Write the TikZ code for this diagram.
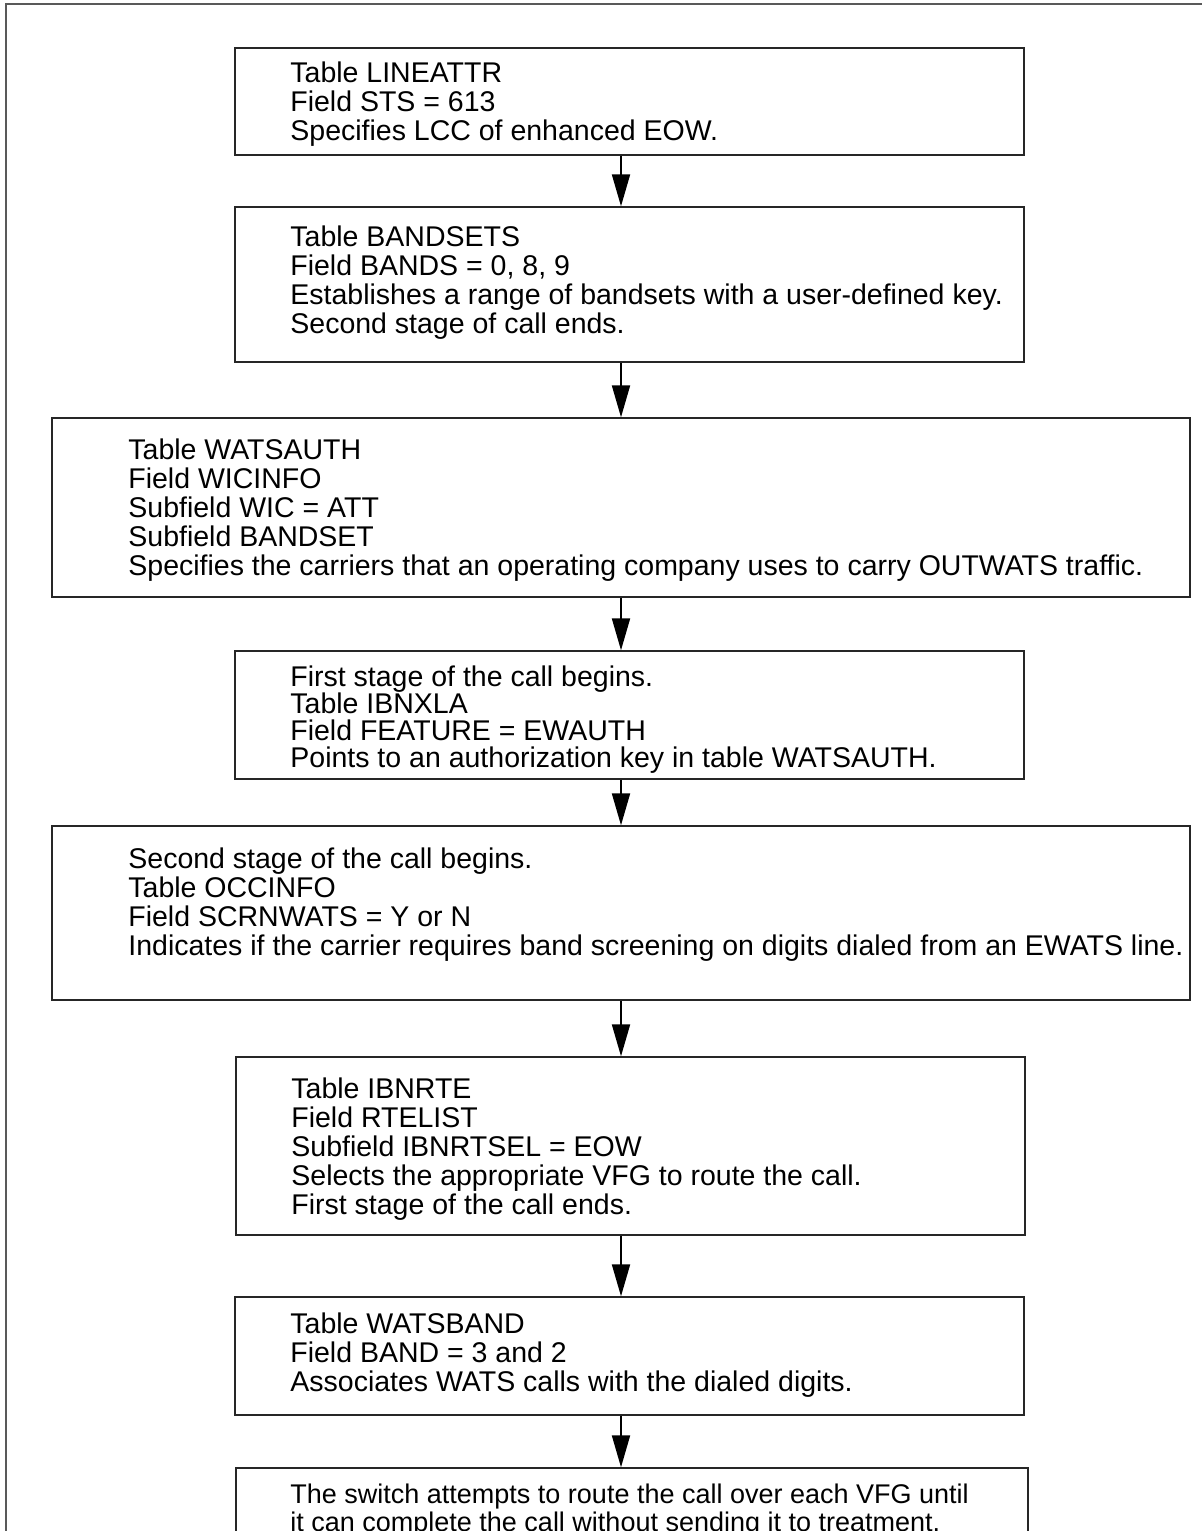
\documentclass[tikz,border=0pt]{standalone}
\usepackage{fontspec}
\setmainfont{Liberation Sans}
\usetikzlibrary{arrows.meta,fit}
\begin{document}
\begin{tikzpicture}[x=0.5pt,y=-0.5pt,
  stepbox/.style={draw=black!85, line width=0.7pt, inner sep=0pt},
  txt/.style={anchor=north west, inner sep=0pt, align=left,
    font=\fontsize{14.25pt}{14.5pt}\selectfont},
  flow/.style={draw=black, line width=1pt, -{Triangle[length=16pt,width=9pt]}}]
\useasboundingbox (0,0) rectangle (1202,1531);
\clip (0,0) rectangle (1202,1531);
% page frame (left and top edges)
\draw[black!65, line width=1pt] (6,1560) -- (6,4) -- (1220,4);
% boxes
\node[stepbox, fit={(235,48) (1024,155)}]   (b1) {};
\node[stepbox, fit={(235,207) (1024,362)}]  (b2) {};
\node[stepbox, fit={(52,418) (1190,597)}]   (b3) {};
\node[stepbox, fit={(235,651) (1024,779)}]  (b4) {};
\node[stepbox, fit={(52,826) (1190,1000)}]  (b5) {};
\node[stepbox, fit={(236,1057) (1025,1235)}] (b6) {};
\node[stepbox, fit={(235,1297) (1024,1415)}] (b7) {};
\node[stepbox, fit={(236,1468) (1028,1580)}] (b8) {};
% texts
\node[txt] (t1) at (290,61) {Table LINEATTR\\Field STS = 613\\Specifies LCC of enhanced EOW.};
\node[txt] (t2) at (290,225) {Table BANDSETS\\Field BANDS = 0, 8, 9\\Establishes a range of bandsets with a user-defined key.\\Second stage of call ends.};
\node[txt] (t3) at (128,438) {Table WATSAUTH\\Field WICINFO\\Subfield WIC = ATT\\Subfield BANDSET\\Specifies the carriers that an operating company uses to carry OUTWATS traffic.};
\node[txt, font=\fontsize{14.25pt}{13.5pt}\selectfont] (t4) at (290,665) {First stage of the call begins.\\Table IBNXLA\\Field FEATURE = EWAUTH\\Points to an authorization key in table WATSAUTH.};
\node[txt] (t5) at (128,847) {Second stage of the call begins.\\Table OCCINFO\\Field SCRNWATS = Y or N\\Indicates if the carrier requires band screening on digits dialed from an EWATS line.};
\node[txt] (t6) at (291,1077) {Table IBNRTE\\Field RTELIST\\Subfield IBNRTSEL = EOW\\Selects the appropriate VFG to route the call.\\First stage of the call ends.};
\node[txt] (t7) at (290,1312) {Table WATSBAND\\Field BAND = 3 and 2\\Associates WATS calls with the dialed digits.};
\node[txt, font=\fontsize{13.5pt}{13.75pt}\selectfont] (t8) at (290,1484) {The switch attempts to route the call over each VFG until\\it can complete the call without sending it to treatment.};
% connectors
\coordinate (ax) at (621,0);
\draw[flow] (b1.south -| ax) -- (b2.north -| ax);
\draw[flow] (b2.south -| ax) -- (b3.north -| ax);
\draw[flow] (b3.south -| ax) -- (b4.north -| ax);
\draw[flow] (b4.south -| ax) -- (b5.north -| ax);
\draw[flow] (b5.south -| ax) -- (b6.north -| ax);
\draw[flow] (b6.south -| ax) -- (b7.north -| ax);
\draw[flow] (b7.south -| ax) -- (b8.north -| ax);
\end{tikzpicture}
\end{document}
